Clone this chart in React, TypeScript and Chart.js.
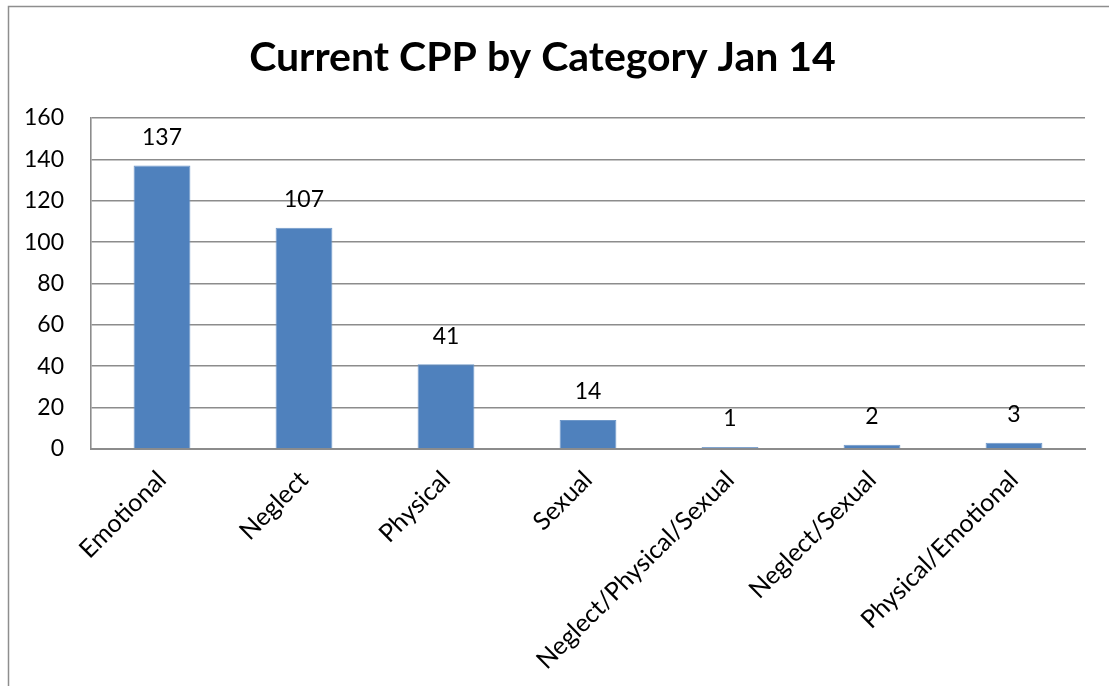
import React, { useEffect, useRef } from "react";
import { Chart, registerables } from "chart.js";

Chart.register(...registerables);

const TITLE = "Current CPP by Category Jan 14";
const categories = [
  "Emotional",
  "Neglect",
  "Physical",
  "Sexual",
  "Neglect/Physical/Sexual",
  "Neglect/Sexual",
  "Physical/Emotional",
];
const values = [137, 107, 41, 14, 1, 2, 3];
const yMin = 0;
const yMax = 160;
const yStep = 20;

const FONT = "Lato, 'Open Sans', 'DejaVu Sans', sans-serif";

const framePlugin = {
  id: "frame",
  beforeDraw(chart: any) {
    const ctx = chart.ctx;
    ctx.save();
    ctx.fillStyle = "#ffffff";
    ctx.fillRect(0, 0, chart.width, chart.height);
    ctx.strokeStyle = "#8e8e8e";
    ctx.lineWidth = 1.5;
    ctx.strokeRect(8.5, 6.5, chart.width + 50, chart.height + 50);
    ctx.restore();
  },
};

const valueLabelPlugin = {
  id: "valueLabels",
  afterDatasetsDraw(chart: any) {
    const ctx = chart.ctx;
    const meta = chart.getDatasetMeta(0);
    ctx.save();
    ctx.font = `23px ${FONT}`;
    ctx.fillStyle = "#000000";
    ctx.textAlign = "center";
    ctx.textBaseline = "middle";
    meta.data.forEach((bar: any, i: number) => {
      const v = chart.data.datasets[0].data[i];
      ctx.fillText(String(v), bar.x, bar.y - 28);
    });
    ctx.restore();
  },
};

export default function App() {
  const ref = useRef<HTMLCanvasElement | null>(null);

  useEffect(() => {
    if (!ref.current) return;
    const chart = new Chart(ref.current, {
      type: "bar",
      data: {
        labels: categories,
        datasets: [
          {
            data: values,
            backgroundColor: "#4f81bd",
            borderColor: "#6f98c9",
            borderWidth: 1,
            barPercentage: 0.4,
            categoryPercentage: 1,
          },
        ],
      },
      options: {
        animation: false,
        responsive: true,
        maintainAspectRatio: false,
        devicePixelRatio: 1,
        layout: { padding: { left: 0, right: 24, top: 0, bottom: 0 } },
        plugins: {
          legend: { display: false },
          tooltip: { enabled: false },
          title: {
            display: true,
            text: TITLE,
            color: "#000000",
            font: { family: FONT, size: 41, weight: "bold", lineHeight: 1.2 },
            padding: { top: 33, bottom: 35.8 },
          },
        },
        scales: {
          x: {
            grid: { display: false, drawTicks: false },
            border: { display: true, color: "#8c8c8c", width: 2 },
            ticks: {
              color: "#000000",
              font: { family: FONT, size: 25 },
              maxRotation: 45,
              minRotation: 45,
              padding: 16,
              autoSkip: false,
            },
            afterFit(scale: any) {
              scale.height = 237;
            },
          },
          y: {
            min: yMin,
            max: yMax,
            grid: { color: "#8c8c8c", lineWidth: 1.6, drawTicks: false },
            border: { display: true, color: "#8c8c8c", width: 1.6 },
            ticks: {
              stepSize: yStep,
              color: "#000000",
              font: { family: FONT, size: 23 },
              padding: 27,
            },
            afterFit(scale: any) {
              scale.width = 91;
            },
          },
        },
      },
      plugins: [framePlugin, valueLabelPlugin],
    });
    return () => chart.destroy();
  }, []);

  return (
    <div style={{ position: "absolute", left: 0, top: 0, width: 1109, height: 686 }}>
      <canvas ref={ref} />
    </div>
  );
}
